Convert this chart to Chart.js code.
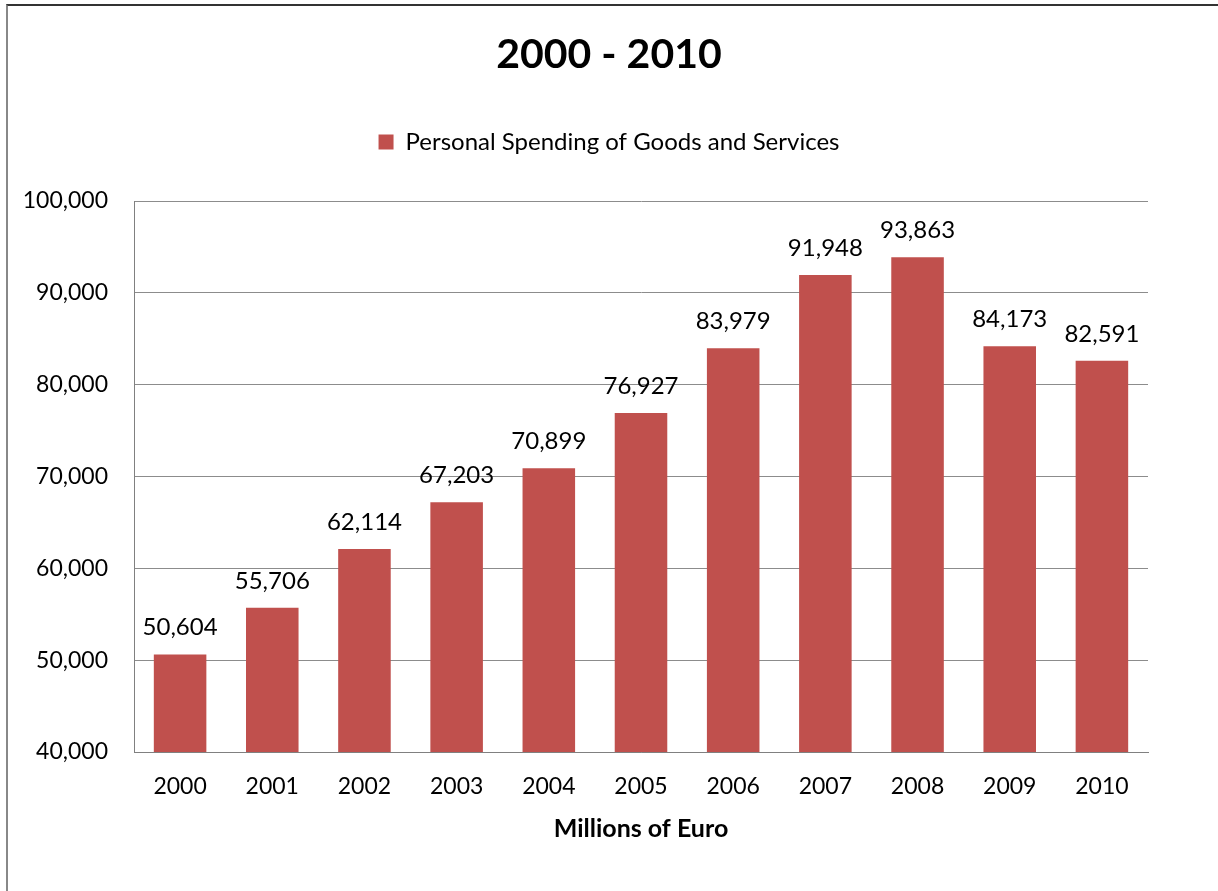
<!DOCTYPE html>
<html>
<head>
<meta charset="utf-8">
<script src="https://cdn.jsdelivr.net/npm/chart.js@4/dist/chart.umd.min.js"></script>
<style>
  html, body { margin: 0; padding: 0; background: #fff; overflow: hidden; }
  #frame { position: absolute; left: 6px; top: 4px; width: 1400px; height: 1000px;
           border-top: 2px solid #333; border-left: 2px solid #888; }
  #c { position: absolute; left: 0; top: 0; }
</style>
</head>
<body>
<div id="frame"></div>
<canvas id="c" width="1218" height="891"></canvas>
<script>
// Personal spending on goods and services, millions of euro
const years = ['2000', '2001', '2002', '2003', '2004', '2005', '2006', '2007', '2008', '2009', '2010'];
const spending = [50604, 55706, 62114, 67203, 70899, 76927, 83979, 91948, 93863, 84173, 82591];
const yTicks = [40000, 50000, 60000, 70000, 80000, 90000, 100000];

const seriesName = 'Personal Spending of Goods and Services';
const chartTitle = '2000 - 2010';
const xTitle = 'Millions of Euro';

const FONT = 'Lato';
const BAR = '#C0504D';
const GRID = '#8c8c8c';

const fmt = v => v.toLocaleString('en-US');

// Value labels above each bar, taken from the dataset values
const valueLabels = {
  id: 'valueLabels',
  afterDatasetsDraw(chart) {
    const ctx = chart.ctx;
    const ds = chart.data.datasets[0];
    const meta = chart.getDatasetMeta(0);
    ctx.save();
    ctx.font = '24px ' + FONT;
    ctx.fillStyle = '#000';
    ctx.textAlign = 'center';
    ctx.textBaseline = 'middle';
    meta.data.forEach((bar, i) => {
      ctx.fillText(fmt(ds.data[i]), bar.x, bar.y - 27);
    });
    ctx.restore();
  }
};

function draw() {
  new Chart(document.getElementById('c'), {
    type: 'bar',
    data: {
      labels: years,
      datasets: [{
        label: seriesName,
        data: spending,
        backgroundColor: BAR,
        borderWidth: 0,
        barPercentage: 0.57,
        categoryPercentage: 1
      }]
    },
    options: {
      responsive: false,
      animation: false,
      layout: { padding: { left: 0, right: 0, top: 0, bottom: 47 } },
      plugins: {
        title: {
          display: true,
          text: chartTitle,
          color: '#000',
          font: { family: FONT, size: 41, weight: 'bold' },
          padding: { top: 30, bottom: 40.8 }
        },
        subtitle: {
          display: true,
          text: '',
          weight: 500,
          font: { size: 10 },
          padding: { top: 25, bottom: 0 }
        },
        legend: {
          display: true,
          position: 'top',
          labels: {
            color: '#000',
            boxWidth: 15,
            boxHeight: 15,
            padding: 10,
            font: { family: FONT, size: 24 }
          }
        },
        tooltip: { enabled: false }
      },
      scales: {
        x: {
          grid: { display: false, drawTicks: false },
          border: { display: true, color: '#808080', width: 1 },
          ticks: { color: '#000', padding: 21, font: { family: FONT, size: 23 } },
          title: {
            display: true,
            text: xTitle,
            color: '#000',
            font: { family: FONT, size: 25, weight: 'bold' },
            padding: { top: 14, bottom: 0 }
          },
          afterFit(s) { s.height = 92; }
        },
        y: {
          min: yTicks[0],
          max: yTicks[yTicks.length - 1],
          grid: { color: GRID, lineWidth: 1, drawTicks: false },
          border: { display: true, color: '#808080', width: 1 },
          ticks: {
            stepSize: yTicks[1] - yTicks[0],
            color: '#000',
            padding: 26,
            font: { family: FONT, size: 23 },
            callback: v => fmt(v)
          },
          afterFit(s) { s.width = 134; }
        },
        yRight: {
          type: 'linear',
          position: 'right',
          grid: { display: false, drawTicks: false },
          border: { display: false },
          ticks: { display: false },
          afterFit(s) { s.width = 70; }
        }
      }
    },
    plugins: [valueLabels]
  });
}

Promise.all([
  document.fonts.load('23px ' + FONT),
  document.fonts.load('bold 41px ' + FONT)
]).then(draw, draw);
</script>
</body>
</html>
